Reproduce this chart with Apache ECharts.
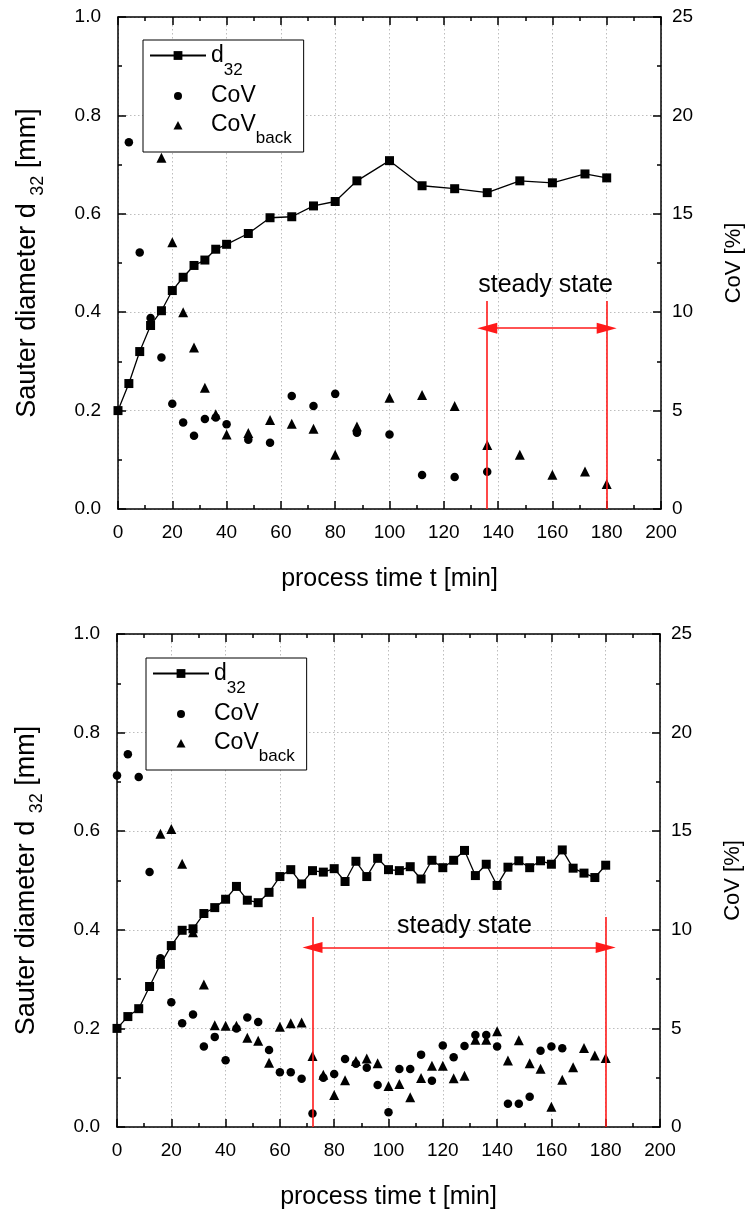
<!DOCTYPE html>
<html>
<head>
<meta charset="utf-8">
<script src="https://cdn.jsdelivr.net/npm/echarts@6/dist/echarts.min.js"></script>
<style>
html,body{margin:0;padding:0;background:#fff;}
#c{width:748px;height:1212px;}
</style>
</head>
<body>
<div id="c"></div>
<script>
// ---------- data: top chart ----------
const topX_d32 = [0,4,8,12,16,20,24,28,32,36,40,48,56,64,72,80,88,100,112,124,136,148,160,172,180];
const top_d32  = [0.200,0.255,0.320,0.373,0.403,0.444,0.471,0.495,0.506,0.528,0.538,0.560,0.592,0.594,0.616,0.625,0.667,0.708,0.657,0.651,0.643,0.667,0.663,0.681,0.673];
const topX_cov = [4,8,12,16,20,24,28,32,36,40,48,56,64,72,80,88,100,112,124,136];
const top_cov  = [18.63,13.03,9.71,7.70,5.35,4.40,3.72,4.57,4.65,4.31,3.52,3.37,5.74,5.23,5.85,3.87,3.79,1.73,1.62,1.89];
const topX_back = [16,20,24,28,32,36,40,48,56,64,72,80,88,100,112,124,136,148,160,172,180];
const top_back  = [17.85,13.55,10.0,8.2,6.16,4.82,3.79,3.86,4.52,4.33,4.08,2.76,4.19,5.65,5.79,5.24,3.25,2.76,1.74,1.91,1.27];
const topSteady = [136, 180];

// ---------- data: bottom chart ----------
const botX_d32 = [0,4,8,12,16,20,24,28,32,36,40,44,48,52,56,60,64,68,72,76,80,84,88,92,96,100,104,108,112,116,120,124,128,132,136,140,144,148,152,156,160,164,168,172,176,180];
const bot_d32  = [0.200,0.224,0.240,0.285,0.330,0.368,0.399,0.402,0.433,0.445,0.462,0.488,0.460,0.455,0.476,0.508,0.522,0.493,0.520,0.517,0.524,0.498,0.539,0.508,0.545,0.522,0.520,0.528,0.503,0.541,0.526,0.541,0.561,0.510,0.533,0.490,0.527,0.540,0.526,0.540,0.533,0.562,0.525,0.515,0.506,0.531];
const botX_cov = [0,4,8,12,16,20,24,28,32,36,40,44,48,52,56,60,64,68,72,76,80,84,88,92,96,100,104,108,112,116,120,124,128,132,136,140,144,148,152,156,160,164];
const bot_cov  = [17.82,18.90,17.75,12.93,8.56,6.33,5.26,5.70,4.08,4.57,3.39,4.99,5.55,5.33,3.91,2.78,2.78,2.45,0.69,2.50,2.69,3.45,3.21,3.01,2.13,0.75,2.94,2.94,3.67,2.35,4.13,3.54,4.11,4.67,4.67,4.08,1.18,1.18,1.54,3.87,4.08,3.99];
const botX_back = [16,20,24,28,32,36,40,44,48,52,56,60,64,68,72,76,80,84,88,92,96,100,104,108,112,116,120,124,128,132,136,140,144,148,152,156,160,164,168,172,176,180];
const bot_back  = [14.87,15.11,13.35,9.88,7.22,5.16,5.13,5.14,4.52,4.37,3.26,5.08,5.26,5.30,3.60,2.65,1.62,2.37,3.35,3.47,3.23,2.08,2.18,1.51,2.49,3.11,3.10,2.47,2.60,4.42,4.42,4.86,3.37,4.40,3.23,2.96,1.03,2.40,3.03,4.01,3.62,3.50];
const botSteady = [72, 180];

// ---------- ticks / labels ----------
const xTicks = {min:0, max:200, interval:20};
const yLeftTicks = {min:0, max:1.0, interval:0.2};
const yRightTicks = {min:0, max:25, interval:5};
const steadyText = 'steady state';
const xTitle = 'process time t [min]';
const rightTitle = 'CoV [%]';

const FONT = 'Liberation Sans, Arial, sans-serif';
const pairs = (xs, ys) => xs.map((x, i) => [x, ys[i]]);

const grids = [
  {left:118, top:17, width:543, height:492, outerBoundsMode:'none', containLabel:false},
  {left:117, top:634, width:543, height:493, outerBoundsMode:'none', containLabel:false}
];

const tickFont = {fontFamily: FONT, fontSize: 19, color: '#000'};
const axLine = {onZero:false, lineStyle:{color:'#000', width:1.5}};
const axTick = {inside:true, length:8, lineStyle:{color:'#000', width:1.5}};
const axMinor = {show:true, splitNumber:2, length:4, lineStyle:{color:'#000', width:1.5}};
const gridLine = {show:true, lineStyle:{color:'#bdbdbd', type:[1.5,2.5], width:1}};

function xAxes(gi) {
  return [
    {
      type:'value', gridIndex:gi, position:'bottom',
      min:xTicks.min, max:xTicks.max, interval:xTicks.interval,
      name: xTitle, nameLocation:'middle', nameGap:58,
      nameTextStyle:{fontFamily:FONT, fontSize:25, color:'#000'},
      axisLine:axLine, axisTick:axTick, minorTick:axMinor,
      axisLabel:{...tickFont, margin:14},
      splitLine:gridLine
    },
    {
      type:'value', gridIndex:gi, position:'top',
      min:xTicks.min, max:xTicks.max, interval:xTicks.interval,
      axisLine:axLine, axisTick:axTick, minorTick:axMinor,
      axisLabel:{show:false}, splitLine:{show:false}
    }
  ];
}
function yAxes(gi) {
  return [
    {
      type:'value', gridIndex:gi, position:'left',
      min:yLeftTicks.min, max:yLeftTicks.max, interval:yLeftTicks.interval,
      name:'{a|Sauter diameter d }{s|32}{a| [mm]}', nameLocation:'middle', nameGap:76, nameRotate:90,
      nameTextStyle:{fontFamily:FONT, color:'#000', rich:{
        a:{fontFamily:FONT, fontSize:27, color:'#000', lineHeight:29},
        s:{fontFamily:FONT, fontSize:18, color:'#000', verticalAlign:'bottom', padding:[0,0,-5,0], lineHeight:29}
      }},
      axisLine:axLine, axisTick:axTick, minorTick:axMinor,
      axisLabel:{...tickFont, margin:17, formatter: v => v.toFixed(1)},
      splitLine:gridLine
    },
    {
      type:'value', gridIndex:gi, position:'right',
      min:yRightTicks.min, max:yRightTicks.max, interval:yRightTicks.interval,
      name:rightTitle, nameLocation:'middle', nameGap:62, nameRotate:90,
      nameTextStyle:{fontFamily:FONT, fontSize:22, color:'#000'},
      axisLine:axLine, axisTick:axTick, minorTick:axMinor,
      axisLabel:{...tickFont, margin:11},
      splitLine:{show:false}
    }
  ];
}

function steadyMarks(steady, lineTop, arrowY, textX, textY) {
  const red = '#ff1a1a';
  return {
    markLine: {
      silent:true, animation:false,
      lineStyle:{color:red, width:1.6, type:'solid'},
      label:{show:false},
      data:[
        [{coord:[steady[0], 0], symbol:'none'}, {coord:[steady[0], lineTop], symbol:'none'}],
        [{coord:[steady[1], 0], symbol:'none'}, {coord:[steady[1], lineTop], symbol:'none'}],
        [{coord:[steady[0], arrowY], symbol:'triangle', symbolSize:[11,20]},
         {coord:[steady[1], arrowY], symbol:'triangle', symbolSize:[11,20]}]
      ]
    },
    markPoint: {
      silent:true, animation:false, symbol:'circle', symbolSize:0,
      label:{show:true, position:'inside', formatter:steadyText, fontFamily:FONT, fontSize:25, color:'#000'},
      data:[{coord:[textX, textY]}]
    }
  };
}

function seriesFor(gi, xd, d, xc, c, xb, b, steadyOpt) {
  const xi = gi*2, yi = gi*2;
  return [
    Object.assign({
      name:'d32', type:'line', xAxisIndex:xi, yAxisIndex:yi,
      data:pairs(xd, d), symbol:'rect', symbolSize:9, showAllSymbol:true,
      lineStyle:{color:'#000', width:1.3}, itemStyle:{color:'#000'}, z:3
    }, steadyOpt),
    {
      name:'CoV', type:'scatter', xAxisIndex:xi, yAxisIndex:yi+1,
      data:pairs(xc, c), symbol:'circle', symbolSize:8.5, itemStyle:{color:'#000', opacity:1}
    },
    {
      name:'CoVback', type:'scatter', xAxisIndex:xi, yAxisIndex:yi+1,
      data:pairs(xb, b), symbol:'triangle', symbolSize:10, itemStyle:{color:'#000', opacity:1}
    }
  ];
}

const legRich = (lh) => ({
  a:{fontFamily:FONT, fontSize:23, color:'#000', lineHeight:lh},
  s:{fontFamily:FONT, fontSize:17, color:'#000', verticalAlign:'bottom', padding:[0,0,-7,0], lineHeight:lh}
});
function legendFor(left, top) {
  return {
    orient:'vertical', left:left, top:top,
    data:[
      {name:'d32', textStyle:{rich:legRich(32)}},
      {name:'CoV', icon:'path://M0,0 M11,11 M1.5,5.5 A4,4 0 1 1 9.5,5.5 A4,4 0 1 1 1.5,5.5 Z', textStyle:{rich:legRich(26)}},
      {name:'CoVback', icon:'path://M0,0 M11,11 M1,10 L5.5,1.5 L10,10 Z', textStyle:{rich:legRich(30)}}
    ],
    itemWidth:56, itemHeight:11, itemGap:6,
    padding:[4,12,5,6],
    borderColor:'#000', borderWidth:1, backgroundColor:'#fff',
    formatter: n => n === 'd32' ? '{a|d}{s|32}' : (n === 'CoV' ? '{a|CoV}' : '{a|CoV}{s|back}'),
    textStyle:{fontFamily:FONT, color:'#000', rich:legRich(28)},
    selectedMode:false
  };
}

const chart = echarts.init(document.getElementById('c'), null, {renderer:'canvas'});
chart.setOption({
  animation:false,
  backgroundColor:'#fff',
  grid:grids,
  xAxis:[...xAxes(0), ...xAxes(1)],
  yAxis:[...yAxes(0), ...yAxes(1)],
  legend:[legendFor(143, 40), legendFor(146, 658)],
  series:[
    ...seriesFor(0, topX_d32, top_d32, topX_cov, top_cov, topX_back, top_back,
                 steadyMarks(topSteady, 0.423, 0.3675, 157.5, 0.455)),
    ...seriesFor(1, botX_d32, bot_d32, botX_cov, bot_cov, botX_back, bot_back,
                 steadyMarks(botSteady, 0.426, 0.364, 128, 0.408))
  ]
});
</script>
</body>
</html>
